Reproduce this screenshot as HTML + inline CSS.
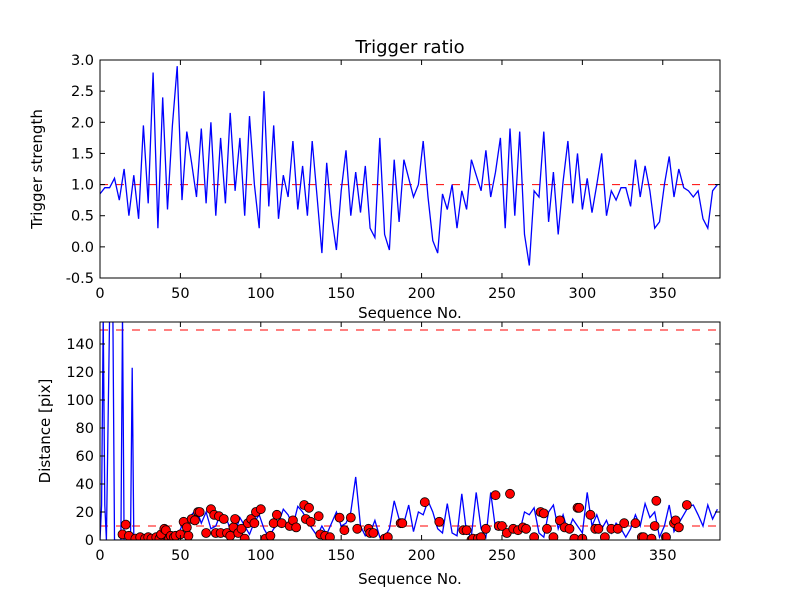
<!DOCTYPE html>
<html><head><meta charset="utf-8"><style>
body{margin:0;background:#fff;}
svg{display:block;font-family:"DejaVu Sans","Liberation Sans",sans-serif;}
</style></head><body>
<svg id="chart" width="800" height="600" viewBox="0 0 800 600" xmlns="http://www.w3.org/2000/svg">
<rect width="800" height="600" fill="#fff"/>
<defs>
<clipPath id="c1"><rect x="100" y="60" width="620" height="218"/></clipPath>
<clipPath id="c2"><rect x="100" y="322" width="620" height="218"/></clipPath>
</defs>
<g id="top"></g>
<g id="bot"></g>
</svg>
<script>
const topX0 = 0, topStep = 3;
const topValues = [.85,.95,.95,1.1,.75,1.25,.5,1.15,.45,1.95,.7,2.8,.3,2.4,.6,1.95,2.9,.75,1.85,1.35,.8,1.9,.7,2.0,.5,1.75,.7,2.15,.9,1.75,.5,2.1,1.0,.3,2.5,.65,1.95,.45,1.15,.8,1.7,.6,1.3,.5,1.7,.8,-.1,1.35,.5,-.05,.9,1.55,.5,1.2,.55,1.3,.3,.15,1.75,.2,-.05,1.4,.4,1.4,1.1,
.8,1.0,1.7,.8,.1,-.1,.85,.6,1.0,.3,.9,.6,1.4,1.15,.9,1.55,.8,1.2,1.75,.3,1.9,.5,1.85,.2,-.3,.9,.8,1.85,.4,1.2,.2,1.05,1.7,.7,1.5,.6,1.1,.55,1.0,1.5,.5,.9,.75,.95,.95,.65,1.4,.8,1.3,.9,.3,.4,1.0,1.45,.8,1.25,.95,.9,.8,.9,.45,.3,.9,1.0];
const topYTicks = [3.0,2.5,2.0,1.5,1.0,0.5,0.0,-0.5];
const xTicks = [0,50,100,150,200,250,300,350];
const topThreshold = [1.0];

const botLineX = [0,1,2,3,4,6,8,9,13,14,15,19,20,21];
const botLineY = [0,25,160,25,0,160,160,0,0,160,0,0,123,2];
const botStepStart = 24, botStep = 3;
const botStepValues = [2,1,2,2,3,8,5,2,3,10,14,18,22,12,20,8,10,19,17,8,5,16,10,4,13,18,8,2,8,12,22,18,10,24,20,14,8,3,10,4,12,20,10,12,20,45,10,3,5,14,2,2,8,28,15,12,25,6,
20,18,28,20,8,5,26,5,3,33,5,3,34,8,2,34,8,12,8,6,9,6,20,18,23,5,2,20,25,8,18,6,15,10,5,34,10,18,8,14,5,12,8,2,8,18,10,26,16,20,2,10,25,6,12,18,24,25,18,10,25,15,22];
const scatX = [14,16,18,22,25,28,30,32,35,37,38,40,41,43,44,46,47,50,52,54,55,57,59,61,62,66,69,71,72,74,75,77,79,81,83,84,86,88,90,92,94,96,97,100,103,106,108,110,113,118,120,122,127,128,130,131,136,137,140,143,149,152,156,160,167,168,170,177,179,187,188,202,211,226,228,231,232,235,237,240,246,248,250,253,255,257,260,263,265,270,274,276,278,282,286,289,292,295,297,298,300,305,308,310,314,318,322,326,333,337,338,343,345,346,352,357,358,360,365];
const scatY = [4,11,3,1,2,1,2,1,2,1,4,8,7,1,3,2,3,4,13,9,3,15,14,20,20,5,22,18,5,17,5,15,5,3,9,15,5,8,1,12,15,12,20,22,1,3,12,18,12,10,14,9,25,15,23,13,17,4,3,2,16,7,16,8,8,5,5,1,2,12,12,27,13,7,7,0,1,1,2,8,32,10,10,5,33,8,7,9,8,2,20,19,8,2,14,9,8,1,23,23,1,18,8,8,2,8,8,12,12,2,2,1,10,28,2,12,14,9,25];
const botYTicks = [0,20,40,60,80,100,120,140];
const botThresholds = [10,150];

const NS="http://www.w3.org/2000/svg";
function mk(parent,tag,attrs){const e=document.createElementNS(NS,tag);for(const k in attrs)e.setAttribute(k,attrs[k]);parent.appendChild(e);return e;}
const L=100,R=720,XMAX=385.6;
const sx=v=>L+(v/XMAX)*(R-L);
const syTop=v=>60+(3.0-v)*(218/3.5);
const syBot=v=>540-v*(218/155.7);

function axes(g,top,bot,yt,sy,fmt,xl,yl,ylx,nm){
  for(const t of xTicks){const x=sx(t);
    const a=mk(g,'line',{x1:x,x2:x,y1:bot,y2:bot-5,stroke:'#000'});
    
    
    mk(g,'line',{x1:x,x2:x,y1:top,y2:top+5,stroke:'#000'});
    const tx=mk(g,'text',{x:x,y:bot+20,'text-anchor':'middle','font-size':14.5});
    tx.textContent=t;
    
    }
  for(const t of yt){const y=sy(t);
    mk(g,'line',{x1:L,x2:L+5,y1:y,y2:y,stroke:'#000'});
    mk(g,'line',{x1:R,x2:R-5,y1:y,y2:y,stroke:'#000'});
    const tx=mk(g,'text',{x:L-6,y:y+5,'text-anchor':'end','font-size':14.5});
    tx.textContent=fmt(t);
    
    }
  const fr=mk(g,'rect',{x:L,y:top,width:R-L,height:bot-top,fill:'none',stroke:'#000','stroke-width':1});
  
  
  const xt=mk(g,'text',{x:410,y:xl,'text-anchor':'middle','font-size':15});
  xt.textContent='Sequence No.';
  
  
  const yy=(top+bot)/2;
  const ytx=mk(g,'text',{x:ylx,y:yy,'text-anchor':'middle','font-size':15,transform:`rotate(-90 ${ylx} ${yy})`});
  ytx.textContent=yl;
  
  
}

const gt=document.getElementById('top');
const ttl=mk(gt,'text',{x:410,y:53,'text-anchor':'middle','font-size':18});
ttl.textContent='Trigger ratio';


const ct=mk(gt,'g',{'clip-path':'url(#c1)'});
for(const v of topThreshold){const h=mk(ct,'line',{x1:L,x2:R,y1:syTop(v),y2:syTop(v),stroke:'#f00','stroke-dasharray':'8,8'});
  
  }
const tp=topValues.map((v,i)=>sx(topX0+i*topStep).toFixed(1)+','+syTop(v).toFixed(1)).join(' ');
const tl=mk(ct,'polyline',{points:tp,fill:'none',stroke:'#00f','stroke-width':1.3});


axes(gt,60,278,topYTicks,syTop,t=>t.toFixed(1),318,'Trigger strength',42,'top-axes');

const gb=document.getElementById('bot');
const cb=mk(gb,'g',{'clip-path':'url(#c2)'});
for(const v of botThresholds){const h=mk(cb,'line',{x1:L,x2:R,y1:syBot(v),y2:syBot(v),stroke:'#f00','stroke-dasharray':'8,8'});
  
  }
const bx=botLineX.slice(), by=botLineY.slice();
botStepValues.forEach((v,i)=>{bx.push(botStepStart+i*botStep);by.push(v);});
const bp=bx.map((x,i)=>sx(x).toFixed(1)+','+syBot(by[i]).toFixed(1)).join(' ');
const bl=mk(cb,'polyline',{points:bp,fill:'none',stroke:'#00f','stroke-width':1.3});


scatX.forEach((x,i)=>{const c=mk(cb,'circle',{cx:sx(x),cy:syBot(scatY[i]),r:4.5,fill:'#f00',stroke:'#000','stroke-width':0.8});
  
  });
axes(gb,322,540,botYTicks,syBot,t=>String(t),584,'Distance [pix]',50,'bottom-axes');
</script>
</body></html>
